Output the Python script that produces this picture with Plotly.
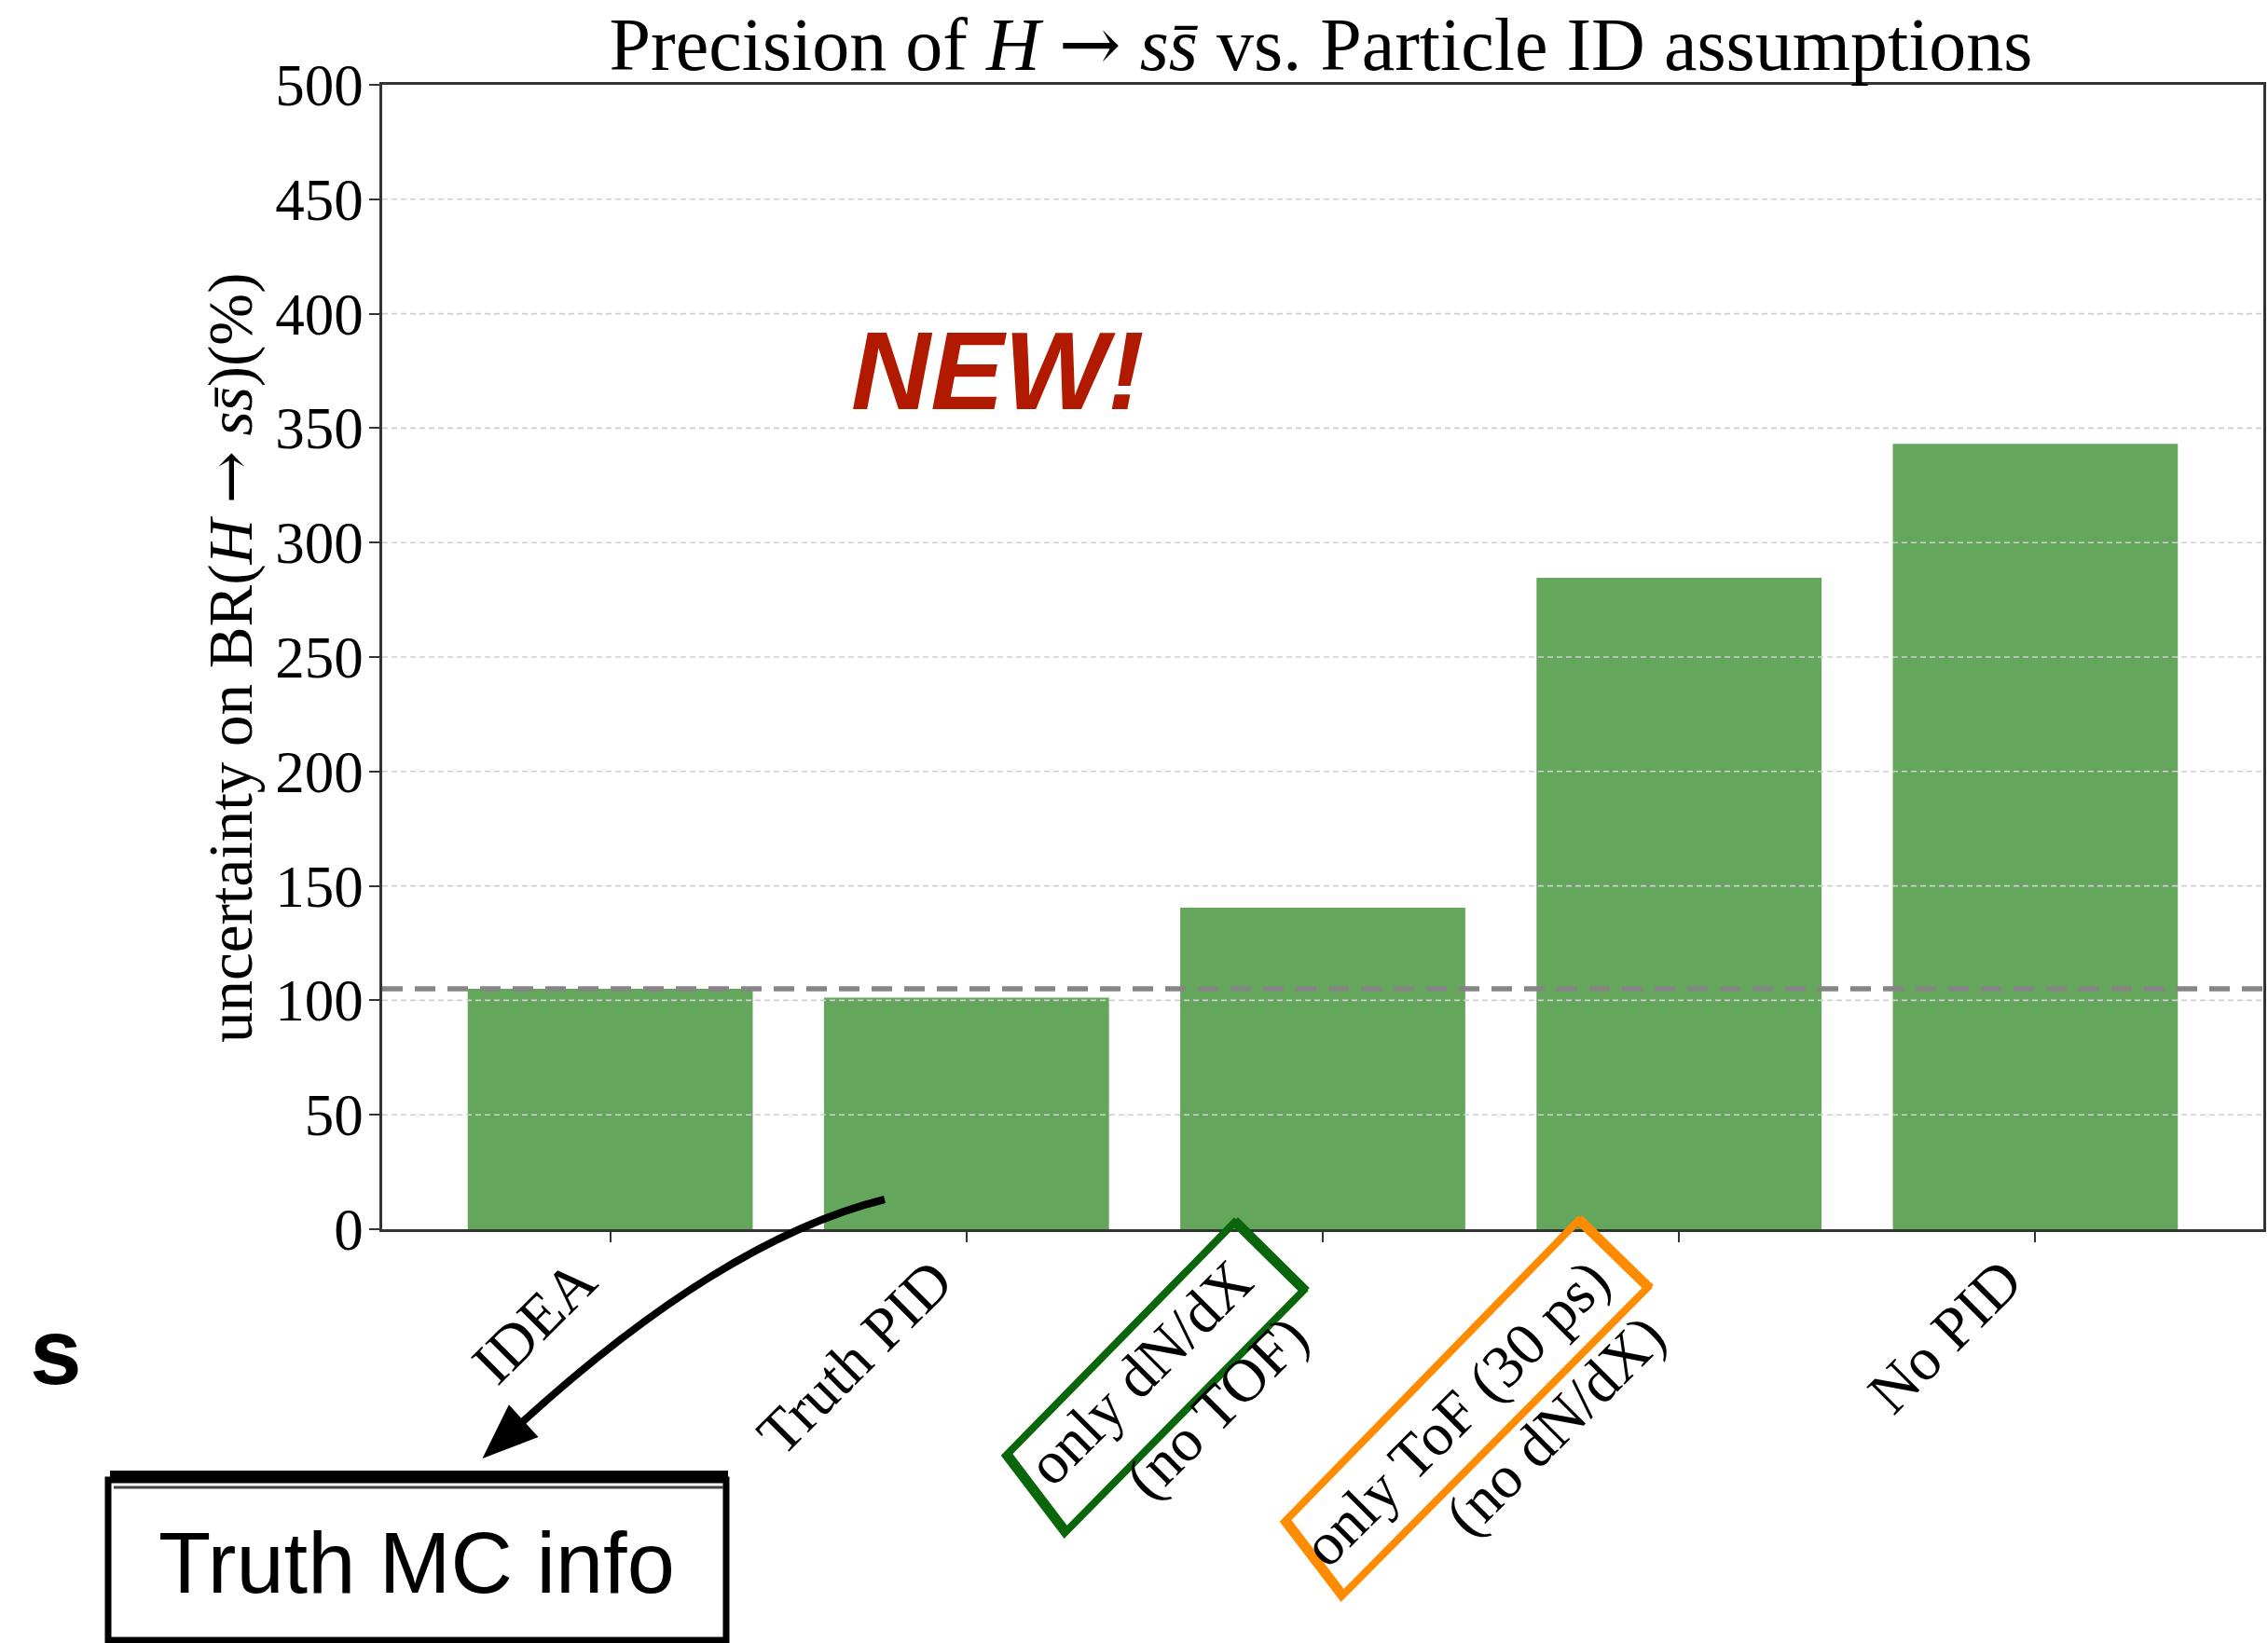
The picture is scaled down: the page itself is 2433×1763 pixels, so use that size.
import plotly.graph_objects as go

# ---- data -------------------------------------------------------------
categories = [
    "IDEA",
    "Truth PID",
    "only dN/dX<br>(no TOF)",
    "only ToF (30 ps)<br>(no dN/dX)",
    "No PID",
]
uncertainty = [105.0, 101.2, 140.5, 284.6, 343.1]   # % uncertainty on BR(H -> ss)
reference_level = uncertainty[0]                      # IDEA baseline
y_ticks = [0, 50, 100, 150, 200, 250, 300, 350, 400, 450, 500]

# ---- canvas geometry ---------------------------------------------------
W, H = 2433, 1763
L, R, T, B = 410, 5, 91, 444
PW, PH = W - L - R, H - T - B


def px(x):
    """pixel x -> paper x"""
    return (x - L) / PW


def py(y):
    """pixel y (from top) -> paper y"""
    return (H - B - y) / PH


def path(points, closed=True):
    s = "M " + " L ".join(f"{px(x):.5f},{py(y):.5f}" for x, y in points)
    return s + (" Z" if closed else "")


BAR_GREEN = "#63a65c"
SERIF = "Liberation Serif"
SANS = "Liberation Sans"
ARROW = '<span style="font-family:DejaVu Serif">→</span>'

fig = go.Figure()
fig.add_trace(go.Bar(
    x=list(range(len(categories))),
    y=uncertainty,
    width=0.8,
    marker=dict(color=BAR_GREEN, line=dict(width=0)),
    hoverinfo="skip",
))

shapes = []
# dashed horizontal grid, drawn over the bars
for v in y_ticks[1:-1]:
    shapes.append(dict(type="line", xref="paper", x0=0, x1=1, yref="y", y0=v, y1=v,
                       line=dict(color="#cfcfcf", width=1.6, dash="6px,4px"), layer="above"))
# reference level of the IDEA configuration
shapes.append(dict(type="line", xref="paper", x0=0, x1=1, yref="y",
                   y0=reference_level, y1=reference_level,
                   line=dict(color="#858585", width=5.5, dash="22px,13px"), layer="above"))

# hand-drawn highlight boxes around two of the category labels
green_box = [(1324, 1312), (1398, 1385), (1142, 1645), (1079, 1562)]
orange_box = [(1693, 1310), (1767, 1382), (1439, 1713), (1378, 1633)]
for pts, col in ((green_box, "#0a660a"), (orange_box, "#ff8c00")):
    shapes.append(dict(type="path", xref="paper", yref="paper", path=path(pts),
                       line=dict(color=col, width=8), layer="above"))
    shifted = [(x + 4, y - 3) for x, y in pts]
    shapes.append(dict(type="path", xref="paper", yref="paper", path=path(shifted),
                       line=dict(color=col, width=4), layer="above"))

# curved arrow pointing to the "Truth MC info" box
p0, c, p1 = (949, 1287), (775, 1330), (558, 1528)
shapes.append(dict(type="path", xref="paper", yref="paper",
                   path=(f"M {px(p0[0]):.5f},{py(p0[1]):.5f} "
                         f"Q {px(c[0]):.5f},{py(c[1]):.5f} {px(p1[0]):.5f},{py(p1[1]):.5f}"),
                   line=dict(color="black", width=8), layer="above"))
dx, dy = p1[0] - c[0], p1[1] - c[1]
n = (dx * dx + dy * dy) ** 0.5
ux, uy = dx / n, dy / n
tip = (p1[0] + 52 * ux, p1[1] + 52 * uy)
back = (p1[0] - 4 * ux, p1[1] - 4 * uy)
head = [tip, (back[0] - 22 * uy, back[1] + 22 * ux), (back[0] + 22 * uy, back[1] - 22 * ux)]
shapes.append(dict(type="path", xref="paper", yref="paper", path=path(head),
                   fillcolor="black", line=dict(color="black", width=2), layer="above"))

# rough black frame of the "Truth MC info" box
box = [(116, 1588), (779, 1588), (779, 1760), (116, 1760)]
shapes.append(dict(type="path", xref="paper", yref="paper", path=path(box),
                   line=dict(color="black", width=7), layer="above"))
shapes.append(dict(type="line", xref="paper", yref="paper",
                   x0=px(118), x1=px(781), y0=py(1584), y1=py(1584),
                   line=dict(color="black", width=12), layer="above"))
shapes.append(dict(type="line", xref="paper", yref="paper",
                   x0=px(122), x1=px(776), y0=py(1596), y1=py(1596),
                   line=dict(color="#444", width=3), layer="above"))

annotations = [
    dict(text=f"uncertainty on BR(<i>H</i> {ARROW} <i>s</i><i>s\u0304</i>)(%)",
         xref="paper", yref="paper", x=px(247), y=py(706), textangle=-90,
         showarrow=False, xanchor="center", yanchor="middle",
         font=dict(family=SERIF, size=67, color="black")),
    dict(text="<b><i>NEW!</i></b>", xref="paper", yref="paper",
         x=px(1070), y=py(398), showarrow=False, xanchor="center", yanchor="middle",
         font=dict(family=SANS, size=118, color="#b21a00")),
    dict(text="Truth MC info", xref="paper", yref="paper",
         x=px(447), y=py(1677), showarrow=False, xanchor="center", yanchor="middle",
         font=dict(family=SANS, size=92, color="black")),
    dict(text="<b>s</b>", xref="paper", yref="paper",
         x=px(60), y=py(1450), showarrow=False, xanchor="center", yanchor="middle",
         font=dict(family=SANS, size=100, color="black")),
]
# rotated category labels, right edge of their box at the tick
for i, lab in enumerate(categories):
    annotations.append(dict(
        text=lab, xref="x", x=i, yref="paper", y=py(1336),
        xanchor="right", yanchor="top", textangle=-45, align="right",
        showarrow=False, borderpad=0,
        font=dict(family=SERIF, size=65, color="black")))

fig.update_layout(
    width=W, height=H,
    margin=dict(l=L, r=R, t=T, b=B, autoexpand=False),
    paper_bgcolor="white", plot_bgcolor="white",
    showlegend=False,
    font=dict(family=SERIF, color="black"),
    title=dict(text=f"Precision of <i>H</i> {ARROW} <i>s</i><i>s\u0304</i> vs. Particle ID assumptions",
               x=px(1417), xanchor="center", y=1 - 47 / H, yanchor="middle",
               yref="container", xref="paper",
               font=dict(family=SERIF, size=80, color="black")),
    xaxis=dict(range=[-0.64, 4.64], tickmode="array",
               tickvals=list(range(len(categories))), showticklabels=False,
               ticks="outside", ticklen=11, tickwidth=2, tickcolor="#333",
               showline=True, linecolor="#333", linewidth=2.5, mirror=True,
               showgrid=False, zeroline=False, fixedrange=True),
    yaxis=dict(range=[0, 500], tickmode="array", tickvals=y_ticks,
               tickfont=dict(family=SERIF, size=63, color="black"),
               ticks="outside", ticklen=11, tickwidth=2, tickcolor="#333",
               ticklabelstandoff=-6,
               showline=True, linecolor="#333", linewidth=2.5, mirror=True,
               showgrid=False, zeroline=False, fixedrange=True),
    shapes=shapes,
    annotations=annotations,
    bargap=0.2,
)

fig.write_html("out.html")
